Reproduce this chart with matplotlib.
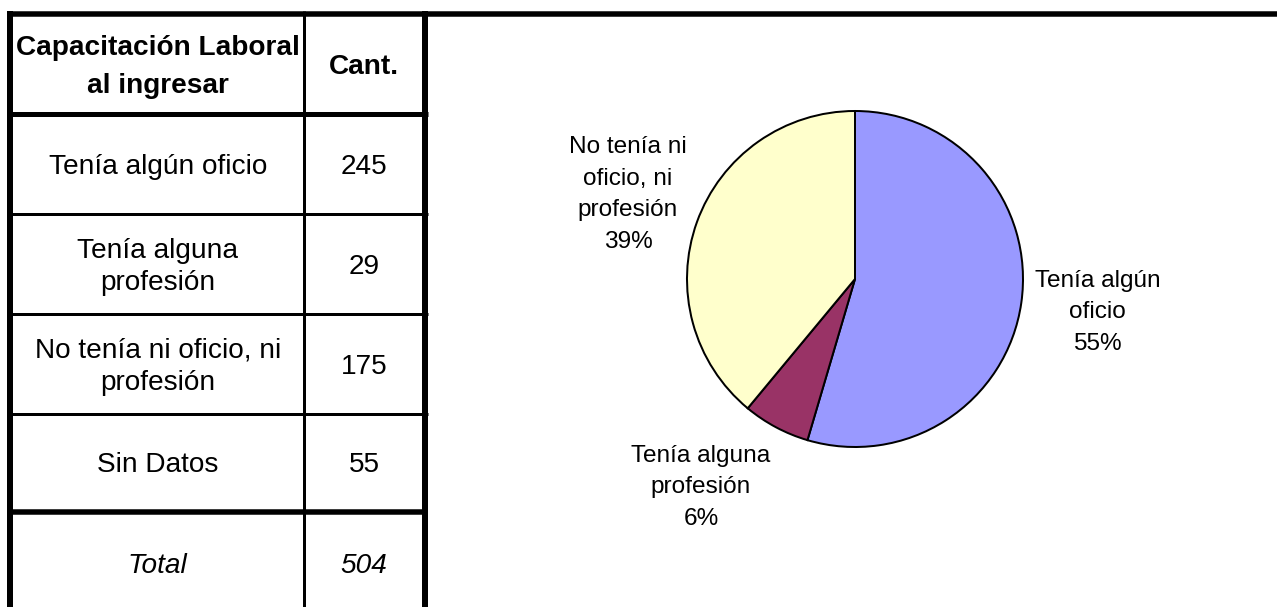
import matplotlib
matplotlib.use("Agg")
import matplotlib.pyplot as plt

# ---- data ----
header = ["Capacitación Laboral\nal ingresar", "Cant."]
categories = ["Tenía algún oficio", "Tenía alguna\nprofesión",
              "No tenía ni oficio, ni\nprofesión", "Sin Datos"]
counts = [245, 29, 175, 55]
total_label = "Total"
total_value = 504

pie_labels = ["Tenía algún\noficio", "Tenía alguna\nprofesión",
              "No tenía ni\noficio, ni\nprofesión"]
pie_values = [245, 29, 175]
pie_colors = ["#9999FF", "#993366", "#FFFFCC"]

plt.rcParams['font.family'] = ['Liberation Sans', 'DejaVu Sans']

W, H = 1277, 607
fig = plt.figure(figsize=(W / 100, H / 100), dpi=100)
fig.patch.set_facecolor("white")

# overlay axes in pixel coordinates
ax = fig.add_axes([0, 0, 1, 1])
ax.set_xlim(0, W)
ax.set_ylim(H, 0)
ax.axis("off")

PX = 0.72  # points per pixel


def hline(y, x0, x1, lw):
    ax.plot([x0, x1], [y, y], color="black", lw=lw * PX,
            solid_capstyle="butt", zorder=5)


def vline(x, y0, y1, lw):
    ax.plot([x, x], [y0, y1], color="black", lw=lw * PX,
            solid_capstyle="butt", zorder=5)


def mtext(x, y_first_baseline, text, spacing, size, **kw):
    for i, line in enumerate(text.split("\n")):
        ax.text(x, y_first_baseline + i * spacing, line, ha="center",
                va="baseline", fontsize=size, **kw)


# ---- table grid ----
left, col, right = 10, 303.5, 425
hline(13.5, 7, W + 5, 5.5)
vline(left, 11, H + 5, 6)
vline(col, 11, H + 5, 3)
vline(right, 11, H + 5, 6)
hline(113.5, 7, 428, 5)
for y in (213.5, 313.5, 413.5):
    hline(y, 7, 428, 3)
hline(512, 7, 428, 5.5)

TS = 20.2  # table font size (pt)
c1 = (left + col) / 2 + 1
c2 = (col + right) / 2

# header
mtext(c1, 55, header[0], 38, TS, fontweight="bold")
mtext(c2, 74, header[1], 32, TS, fontweight="bold")

# rows
row_centers = [164, 263.5, 363.5, 462]
for rc, cat, n in zip(row_centers, categories, counts):
    nlines = cat.count("\n") + 1
    first = rc + 10 - (nlines - 1) * 32 / 2
    mtext(c1, first, cat, 32, TS)
    mtext(c2, rc + 10, str(n), 32, TS)

# total
mtext(c1, 573, total_label, 32, TS, fontstyle="italic")
mtext(c2, 573, str(total_value), 32, TS, fontstyle="italic")

# ---- pie ----
cx, cy, r = 855, 279, 168
half = r * 1.05
pax = fig.add_axes([(cx - half) / W, (H - cy - half) / H, 2 * half / W, 2 * half / H])
pax.pie(pie_values, colors=pie_colors, startangle=90, counterclock=False,
        radius=1, wedgeprops=dict(edgecolor="black", linewidth=2 * PX))
pax.set_xlim(-1.05, 1.05)
pax.set_ylim(-1.05, 1.05)
pax.set_aspect("auto")
pax.axis("off")

tot = sum(pie_values)
pcts = [f"{round(v / tot * 100)}%" for v in pie_values]
PS = 17.6
label_pos = [(1097.5, 287), (701, 462), (628, 153)]
for (x, y), lab, p in zip(label_pos, pie_labels, pcts):
    mtext(x, y, lab + "\n" + p, 31.5, PS)

fig.savefig("out.png", dpi=100)
